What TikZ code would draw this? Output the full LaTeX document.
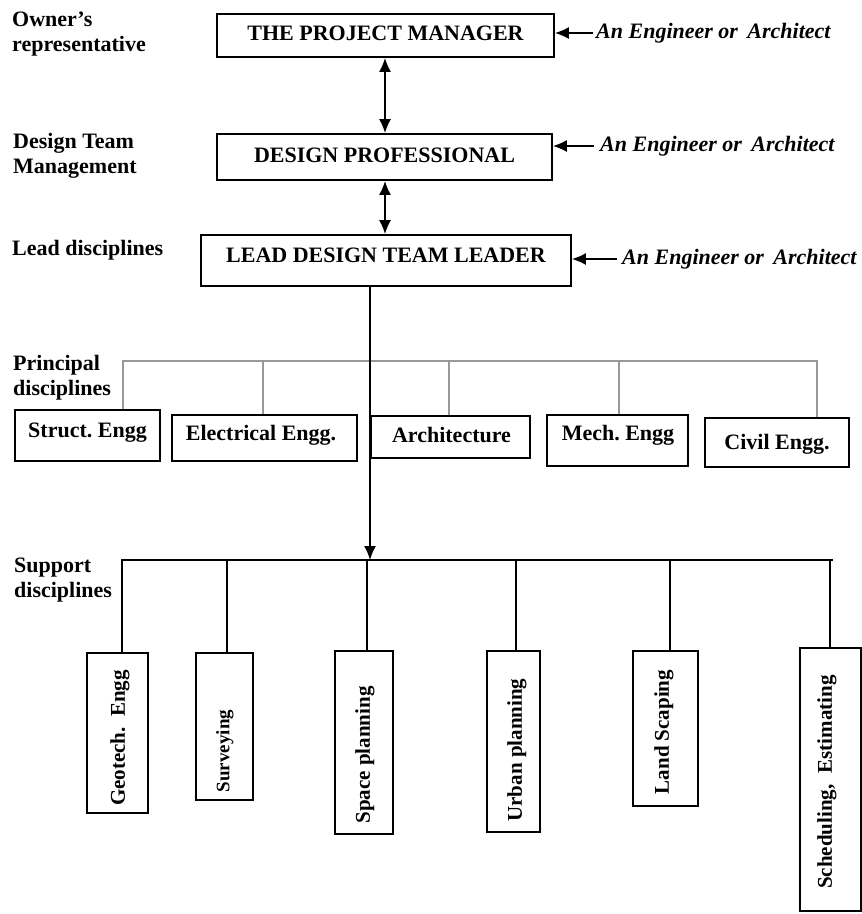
\documentclass[tikz,border=0pt]{standalone}
\usepackage{fontspec}
\setmainfont{Liberation Serif}
\usetikzlibrary{arrows.meta}
\begin{document}
\frenchspacing
\begin{tikzpicture}[x=1pt,y=-1pt,
  box/.style={draw, line width=1.8pt, inner sep=0pt},
  ttl/.style={font=\fontsize{22}{25}\selectfont\bfseries, inner sep=0pt},
  side/.style={font=\fontsize{22}{25}\selectfont\bfseries, align=left, anchor=west, inner sep=0pt},
  who/.style={font=\fontsize{22}{25}\selectfont\bfseries\itshape, anchor=west, inner sep=0pt},
  vt/.style={rotate=90, font=\fontsize{21}{24}\selectfont\bfseries, inner sep=0pt},
  conn/.style={line width=1.6pt},
  gconn/.style={line width=1.8pt, color=gray!80},
  arr/.style={line width=1.6pt, -{Latex[length=14pt,width=12pt]}},
  dbl/.style={line width=1.6pt, {Latex[length=14pt,width=12pt]}-{Latex[length=14pt,width=12pt]}}
]
\useasboundingbox[fill=white] (0,0) rectangle (862,914);

% left side labels
\node[side] (lOwner) at (12,34.5) {Owner's\\representative};
\node[side] (lDesign) at (13,155.5) {Design Team\\Management};
\node[side] (lLead) at (12,250) {Lead disciplines};
\node[side] (lPrin) at (13,377.5) {Principal\\disciplines};
\node[side] (lSup) at (14,580.5) {Support\\disciplines};

% top boxes
\node[box, minimum width=337pt, minimum height=43pt] (pm) at (385.5,35.5) {};
\node[ttl] (pmT) at (385.5,33) {THE PROJECT MANAGER};
\node[box, minimum width=335pt, minimum height=46pt] (dp) at (384.5,157) {};
\node[ttl] (dpT) at (384.5,155) {DESIGN PROFESSIONAL};
\node[box, minimum width=370pt, minimum height=51pt] (ldtl) at (386,260.5) {};
\node[ttl] (ldtlT) at (386,255) {LEAD DESIGN TEAM LEADER};

% right labels
\node[who] (w1) at (596,33) {An Engineer or\hspace{4pt} Architect};
\node[who] (w2) at (600,146) {An Engineer or\hspace{4pt} Architect};
\node[who] (w3) at (622,259) {An Engineer or\hspace{4pt} Architect};
\draw[arr, shorten <=3pt] (w1.west) -- (w1.west -| pm.east);
\draw[arr, shorten <=6pt] (w2.west) -- (w2.west -| dp.east);
\draw[arr, shorten <=5pt] (w3.west) -- (w3.west -| ldtl.east);

% double arrows
\coordinate (ax) at (385,0);
\draw[dbl] (pm.south -| ax) -- (dp.north -| ax);
\draw[dbl] (dp.south -| ax) -- (ldtl.north -| ax);

% principal disciplines
\node[box, minimum width=145pt, minimum height=51pt] (st) at (87.5,435.5) {};
\node[ttl] (stT) at (87.5,433) {Struct. Engg};
\node[box, minimum width=185pt, minimum height=46pt] (el) at (264.5,438) {};
\node[ttl] (elT) at (261,435) {Electrical Engg.};
\node[box, minimum width=159pt, minimum height=42pt] (ar) at (450.5,437) {};
\node[ttl] (arT) at (451.5,435) {Architecture};
\node[box, minimum width=141pt, minimum height=51pt] (me) at (617.5,440.5) {};
\node[ttl] (meT) at (618,435) {Mech. Engg};
\node[box, minimum width=144pt, minimum height=49pt] (cv) at (777,442.5) {};
\node[ttl] (cvT) at (777,444) {Civil Engg.};

\coordinate (pb1) at (123,361);
\coordinate (pb2) at (263,361);
\coordinate (pb3) at (449,361);
\coordinate (pb4) at (619,361);
\coordinate (pb5) at (817,361);
\draw[gconn] (pb1 |- st.north) -- (pb1) -- (pb5) -- (pb5 |- cv.north);
\draw[gconn] (pb2) -- (pb2 |- el.north);
\draw[gconn] (pb3) -- (pb3 |- ar.north);
\draw[gconn] (pb4) -- (pb4 |- me.north);

% support disciplines
\node[box, minimum width=61pt, minimum height=160pt] (ge) at (117.5,733) {};
\node[vt] (geT) at (120,738) {Geotech.\hspace{5pt} Engg};
\node[box, minimum width=57pt, minimum height=147pt] (su) at (224.5,726.5) {};
\node[vt, font=\fontsize{19}{22}\selectfont\bfseries] (suT) at (225,751) {Surveying};
\node[box, minimum width=58pt, minimum height=183pt] (sp) at (364,742.5) {};
\node[vt] (spT) at (365,755) {Space planning};
\node[box, minimum width=53pt, minimum height=181pt] (ur) at (513.5,741.5) {};
\node[vt] (urT) at (517,750) {Urban planning};
\node[box, minimum width=65pt, minimum height=155pt] (la) at (665.5,728.5) {};
\node[vt] (laT) at (664,732) {Land Scaping};
\node[box, minimum width=61pt, minimum height=263pt] (sc) at (830.5,779.5) {};
\node[vt] (scT) at (827,782) {Scheduling,\hspace{6pt} Estimating};

\coordinate (sb0) at (370,560);
\coordinate (sb1) at (122,560);
\coordinate (sb2) at (227,560);
\coordinate (sb3) at (367,560);
\coordinate (sb4) at (516,560);
\coordinate (sb5) at (670,560);
\coordinate (sb6) at (830,560);
\coordinate (sbe) at (833,560);
\draw[conn] (sb1 |- ge.north) -- (sb1) -- (sbe);
\draw[conn] (sb2) -- (sb2 |- su.north);
\draw[conn] (sb3) -- (sb3 |- sp.north);
\draw[conn] (sb4) -- (sb4 |- ur.north);
\draw[conn] (sb5) -- (sb5 |- la.north);
\draw[conn] (sb6) -- (sb6 |- sc.north);

% main trunk
\draw[arr] (ldtl.south -| sb0) -- (sb0);
\end{tikzpicture}
\end{document}
